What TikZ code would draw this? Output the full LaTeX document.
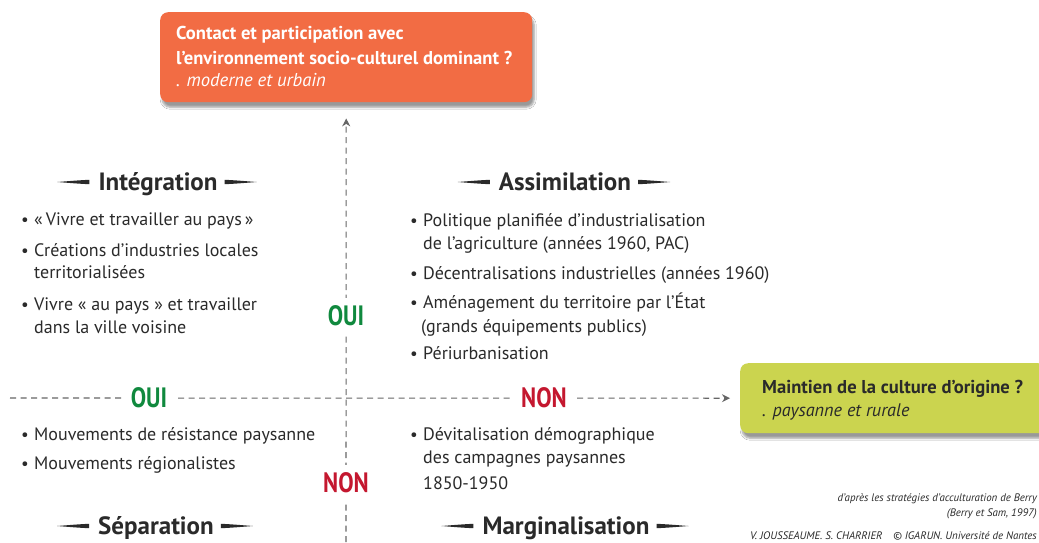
\documentclass[tikz,border=0pt]{standalone}
\usepackage{fontspec}
\setmainfont{PT Sans}
\newfontfamily\condfont[FakeStretch=0.82]{PT Sans}
\usetikzlibrary{arrows.meta,shadows.blur,calc}
\definecolor{orangebox}{HTML}{F26C44}
\definecolor{greenbox}{HTML}{CBD44F}
\definecolor{ouicol}{HTML}{10893E}
\definecolor{noncol}{HTML}{C4172F}
\definecolor{textc}{HTML}{2A2A2A}
\definecolor{axisc}{HTML}{666666}
\tikzset{
  box/.style={rounded corners=8pt, inner sep=0, anchor=north west,
    blur shadow={shadow xshift=2pt, shadow yshift=-5pt, shadow blur steps=6, shadow opacity=40}},
  txt/.style={font=\fontsize{18}{20}\selectfont, text=textc, inner sep=0, anchor=base west},
  bul/.style={font=\fontsize{17}{20}\selectfont, text=textc, inner sep=0, anchor=base west},
  head/.style={font=\bfseries\fontsize{25}{30}\selectfont, text=textc, inner sep=0, anchor=base},
  toptxt/.style={font=\bfseries\fontsize{18.6}{20}\selectfont, text=white, inner sep=0, anchor=base west},
  topit/.style={font=\itshape\fontsize{18.6}{20}\selectfont, text=white, inner sep=0, anchor=base west},
  grtxt/.style={font=\bfseries\fontsize{18.6}{20}\selectfont, text=textc, inner sep=0, anchor=base west},
  grit/.style={font=\itshape\fontsize{18.2}{20}\selectfont, text=textc, inner sep=0, anchor=base west},
  credit/.style={font=\itshape\fontsize{10.9}{12}\selectfont, text=textc, inner sep=0, anchor=base east},
  axis/.style={draw=axisc, line width=1.1pt, dash pattern=on 6pt off 4.5pt},
  tip/.style={-{Stealth[length=8pt,width=8pt]}},
  oui/.style={font=\condfont\bfseries\fontsize{28}{30}\selectfont, text=ouicol, fill=white, inner xsep=7pt, inner ysep=8pt},
  non/.style={font=\condfont\bfseries\fontsize{28}{30}\selectfont, text=noncol, fill=white, inner xsep=7pt, inner ysep=8pt},
  swash/.pic={\fill[textc] (0,-2.2) .. controls (-10,-1.8) and (-20,-0.9) .. (-32,0) .. controls (-20,0.9) and (-10,1.8) .. (0,2.2) -- cycle;}
}
\begin{document}
\begin{tikzpicture}[x=1pt,y=-1pt]
\useasboundingbox (0,0) rectangle (1039,542);
\fill[white] (0,0) rectangle (1039,542);

% boxes
\node[box, fill=orangebox, minimum width=372pt, minimum height=90pt] (top) at (160,12) {};
\node[toptxt] (t1) at (176,39) {Contact et participation avec};
\node[toptxt] (t2) at (176,64) {l’environnement socio-culturel dominant ?};
\node[topit] (t3) at (176,86) {. moderne et urbain};

\node[box, fill=greenbox, minimum width=306pt, minimum height=70pt] (green) at (740,363) {};
\node[grtxt] (g1) at (762,393) {Maintien de la culture d’origine ?};
\node[grit] (g2) at (762,416) {. paysanne et rurale};

% axes
\coordinate (vbot) at (346,542);
\coordinate (hleft) at (10,398);
\draw[axis, tip, shorten >=16pt] (vbot) -- (top.south);
\draw[axis, tip, shorten >=10pt] (hleft) -- (green.west);

\node[oui] (ouiv) at (346,316) {OUI};
\node[non] (nonv) at (346,483) {NON};
\node[oui] (ouih) at (149,398) {OUI};
\node[non] (nonh) at (544,398) {NON};

% headings
\node[head] (integ) at (158,190) {Intégration};
\node[head] (assim) at (565,190) {Assimilation};
\node[head] (separ) at (156,534) {Séparation};
\node[head] (margi) at (566,534) {Marginalisation};
\foreach \h in {integ,assim,separ,margi}{
  \pic at ($(\h.base west)+(-9,-8)$) {swash};
  \pic[xscale=-1] at ($(\h.base east)+(7,-8)$) {swash};
}

% Integration items
\node[bul] (b1) at (21,225) {•};
\node[txt] (i1) at (34,225) {«\,Vivre et travailler au pays\,»};
\node[bul] (b2) at (21,256) {•};
\node[txt] (i2) at (34,256) {Créations d'industries locales};
\node[txt] (i2b) at (34,278) {territorialisées};
\node[bul] (b3) at (21,310) {•};
\node[txt] (i3) at (34,310) {Vivre « au pays » et travailler};
\node[txt] (i3b) at (34,333) {dans la ville voisine};

% Assimilation items
\node[bul] (c1) at (410,226) {•};
\node[txt] (a1) at (423,226) {Politique planifiée d’industrialisation};
\node[txt] (a1b) at (423,249) {de l’agriculture (années 1960, PAC)};
\node[bul] (c2) at (410,279) {•};
\node[txt] (a2) at (423,279) {Décentralisations industrielles (années 1960)};
\node[bul] (c3) at (410,308) {•};
\node[txt] (a3) at (423,308) {Aménagement du territoire par l’État};
\node[txt] (a3b) at (421,332) {(grands équipements publics)};
\node[bul] (c4) at (410,359) {•};
\node[txt] (a4) at (423,359) {Périurbanisation};

% Separation items
\node[bul] (d1) at (21,440) {•};
\node[txt] (s1) at (34,440) {Mouvements de résistance paysanne};
\node[bul] (d2) at (21,469) {•};
\node[txt] (s2) at (34,469) {Mouvements régionalistes};

% Marginalisation items
\node[bul] (e1) at (410,440) {•};
\node[txt] (m1) at (423,440) {Dévitalisation démographique};
\node[txt] (m1b) at (423,463) {des campagnes paysannes};
\node[txt] (m1c) at (423,489) {1850-1950};

% credits
\node[credit] (cr1) at (1037,501) {d’après les stratégies d’acculturation de Berry};
\node[credit] (cr2) at (1037,516) {(Berry et Sam, 1997)};
\node[credit] (cr3) at (1037,539) {V. JOUSSEAUME. S. CHARRIER\quad © IGARUN. Université de Nantes};
\end{tikzpicture}
\end{document}
